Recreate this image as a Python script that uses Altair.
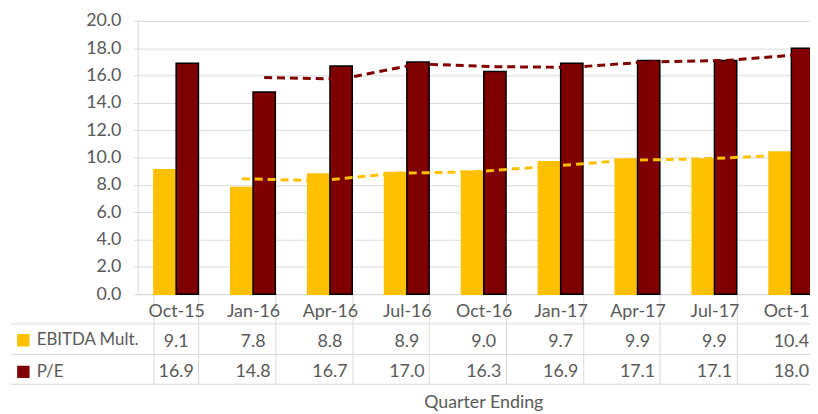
import altair as alt
import pandas as pd

categories = ["Oct-15", "Jan-16", "Apr-16", "Jul-16", "Oct-16", "Jan-17", "Apr-17", "Jul-17", "Oct-17"]
ebitda_mult = [9.1, 7.8, 8.8, 8.9, 9.0, 9.7, 9.9, 9.9, 10.4]
pe_ratio = [16.9, 14.8, 16.7, 17.0, 16.3, 16.9, 17.1, 17.1, 18.0]
series_names = ["EBITDA Mult.", "P/E"]
y_ticks = [0, 2, 4, 6, 8, 10, 12, 14, 16, 18, 20]

rows = []
for i, q in enumerate(categories):
    rows.append({"idx": i, "quarter": q, "series": series_names[0], "value": ebitda_mult[i]})
    rows.append({"idx": i, "quarter": q, "series": series_names[1], "value": pe_ratio[i]})
df = pd.DataFrame(rows)

FONT = "Lato"
TXT = "#595959"
GRID = "#D9D9D9"
FS = 18
W = 679          # visible plot width (page is cropped on the right)
FULL = 699       # full width of the category scale
H = 276

x_axis = alt.Axis(
    title="Quarter Ending", tickBand="extent", tickSize=91, tickColor=GRID, tickWidth=1,
    domainColor=GRID, domainWidth=1, labelPadding=-73, labelBaseline="middle",
    labelFont=FONT, labelFontSize=FS, labelColor=TXT, labelAngle=0, labelOverlap=False,
    titleFont=FONT, titleFontSize=FS, titleFontWeight="normal", titleColor=TXT,
    titleX=349, titleY=109, titleBaseline="middle", titleAnchor="middle", grid=False,
)
x_enc = alt.X("quarter:N", sort=categories,
              scale=alt.Scale(paddingInner=0.42, paddingOuter=0.21, range=[0, FULL]), axis=x_axis)
x_plain = alt.X("quarter:N", sort=categories)
xoff = alt.XOffset("series:N", sort=series_names, scale=alt.Scale(paddingInner=0, paddingOuter=0))

y_axis = alt.Axis(title=None, values=y_ticks, format=".1f", grid=True, gridColor=GRID,
                  gridWidth=1, domainColor=GRID, tickColor=GRID, tickSize=4, labelOverlap=False,
                  labelPadding=13, labelFont=FONT, labelFontSize=FS, labelColor=TXT)
y_scale = alt.Scale(domain=[0, 20], nice=False)

leg = alt.Legend(orient="none", legendX=-124, legendY=314, title=None, symbolType="square",
                 symbolSize=121, symbolStrokeWidth=1.5, labelFont=FONT, labelFontSize=17,
                 labelColor=TXT, rowPadding=14, labelOffset=5, padding=0, direction="vertical")
color_scale = alt.Scale(domain=series_names, range=["#FFC000", "#800000"])
stroke_scale = alt.Scale(domain=series_names, range=["#FFC000", "#000000"])

bars = alt.Chart(df).mark_bar(strokeWidth=1.5).encode(
    x=x_enc, xOffset=xoff, y=alt.Y("value:Q", scale=y_scale, axis=y_axis),
    color=alt.Color("series:N", scale=color_scale, legend=leg),
    stroke=alt.Stroke("series:N", scale=stroke_scale, legend=leg),
)

lines = alt.Chart(df).transform_window(
    ma="mean(value)", n="count()", frame=[-1, 0], groupby=["series"], sort=[{"field": "idx"}]
).transform_filter("datum.n == 2").mark_line(strokeWidth=3, strokeDash=[8, 5]).encode(
    x=x_plain, xOffset=xoff, y=alt.Y("ma:Q", scale=y_scale, axis=y_axis),
    color=alt.Color("series:N", scale=color_scale, legend=None),
)

row_y = {series_names[0]: 324, series_names[1]: 355}
texts = []
for s in series_names:
    texts.append(
        alt.Chart(df).transform_filter(alt.datum.series == s).mark_text(
            font=FONT, fontSize=FS, color=TXT, baseline="middle"
        ).encode(x=x_plain, y=alt.value(row_y[s]), text=alt.Text("value:Q", format=".1f"))
    )

rule_df = pd.DataFrame({"k": [0]})
rules = []
for yy in [306, 337, 367]:
    rules.append(
        alt.Chart(rule_df).mark_rule(color=GRID, strokeWidth=1).encode(
            x=alt.value(-128), x2=alt.value(FULL), y=alt.value(yy)
        )
    )

chart = alt.layer(bars, lines, *texts, *rules).properties(
    width=W, height=H,
    autosize=alt.AutoSizeParams(type="none"),
    padding={"left": 131, "top": 11, "right": 0, "bottom": 119},
    background="white",
).configure_view(stroke=None)

chart.save("out.html", embed_options={"renderer": "svg", "actions": False})
